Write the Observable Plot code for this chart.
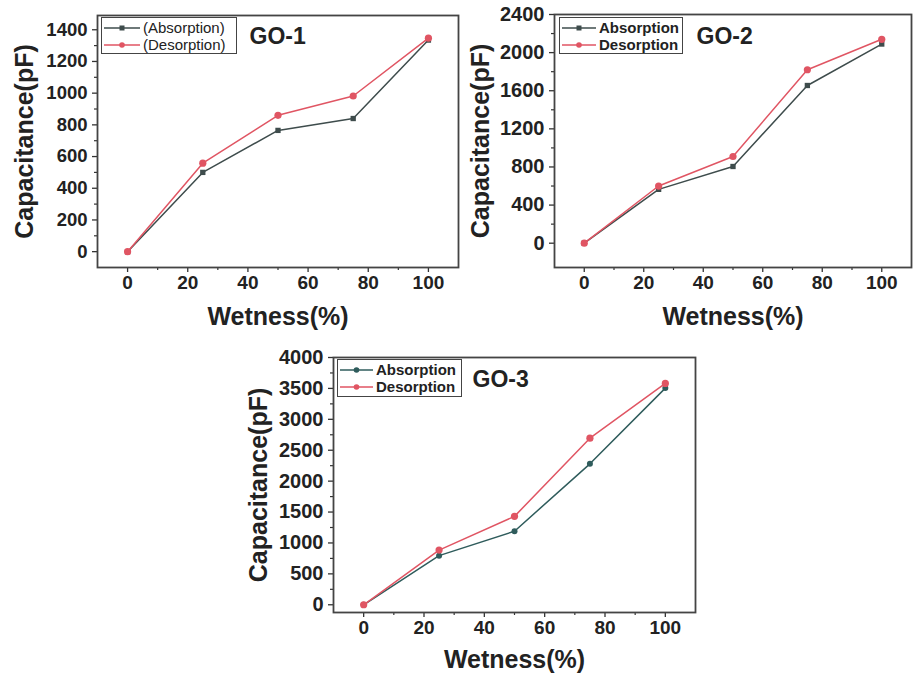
<!DOCTYPE html>
<html>
<head>
<meta charset="utf-8">
<script src="https://cdn.jsdelivr.net/npm/d3@7"></script>
<script src="https://cdn.jsdelivr.net/npm/@observablehq/plot@0.6"></script>
<style>
  body { margin: 0; background: #fff; }
  #wrap { position: relative; width: 913px; height: 673px; background: #fff; overflow: hidden; font-family: "Liberation Sans", Arial, sans-serif; }
  .panel { position: absolute; }
  .legend { position: absolute; border: 1.6px solid #444; background: #fff; box-sizing: border-box; padding: 1px 0 0 1px; }
  .legend .row { display: flex; align-items: center; height: 17px; color: #222; white-space: nowrap; }
  .legend svg { display: block; flex: none; }
</style>
</head>
<body>
<div id="wrap"></div>
<script>
// ---- data ----
const wetness = [0, 25, 50, 75, 100];
const go1Abs = [0, 500, 765, 840, 1335];
const go1Des = [0, 558, 860, 982, 1347];
const go2Abs = [0, 565, 805, 1655, 2090];
const go2Des = [0, 600, 910, 1820, 2140];
const go3Abs = [0, 795, 1190, 2280, 3505];
const go3Des = [0, 885, 1430, 2695, 3580];

const xTicks = [0, 20, 40, 60, 80, 100];
const xMinor = [10, 30, 50, 70, 90];
const go1YTicks = [0, 200, 400, 600, 800, 1000, 1200, 1400];
const go1YMinor = [100, 300, 500, 700, 900, 1100, 1300];
const go2YTicks = [0, 400, 800, 1200, 1600, 2000, 2400];
const go2YMinor = [200, 600, 1000, 1400, 1800, 2200];
const go3YTicks = [0, 500, 1000, 1500, 2000, 2500, 3000, 3500, 4000];
const go3YMinor = [250, 750, 1250, 1750, 2250, 2750, 3250, 3750];

const titles = ["GO-1", "GO-2", "GO-3"];
const seriesNames1 = ["(Absorption)", "(Desorption)"];
const seriesNames = ["Absorption", "Desorption"];
const xLabel = "Wetness(%)";
const yLabel = "Capacitance(pF)";

const absColor = "#3e4c4c";
const desColor = "#e05563";
const FONT = "'Liberation Sans', Arial, sans-serif";

const wrap = document.getElementById("wrap");

function panel(cfg) {
  const abs = wetness.map((w, i) => ({w, v: cfg.abs[i]}));
  const des = wetness.map((w, i) => ({w, v: cfg.des[i]}));
  const axisStyle = {fontWeight: "bold", label: null, stroke: "#333", strokeWidth: 1.3, fill: "#222", tickFormat: d => String(d)};
  const plot = Plot.plot({
    width: cfg.width,
    height: cfg.height,
    marginLeft: cfg.ml, marginRight: cfg.mr, marginTop: cfg.mt, marginBottom: cfg.mb,
    x: {domain: [-10, 110]},
    y: {domain: cfg.yDomain},
    style: {fontFamily: FONT, background: "transparent", color: "#222", overflow: "visible"},
    marks: [
      Plot.axisX(xTicks, {...axisStyle, fontSize: 19, tickSize: 5, tickPadding: 3}),
      Plot.axisX(xMinor, {tickSize: 3, tickFormat: () => "", label: null, stroke: "#333", strokeWidth: 1.2}),
      Plot.axisY(cfg.yTicks, {...axisStyle, fontSize: cfg.yfs, tickSize: 5, tickPadding: 5}),
      Plot.axisY(cfg.yMinor, {tickSize: 3, tickFormat: () => "", label: null, stroke: "#333", strokeWidth: 1.2}),
      Plot.frame({stroke: "#444", strokeWidth: 1.8}),
      Plot.line(abs, {x: "w", y: "v", stroke: cfg.absColor || absColor, strokeWidth: 1.5}),
      Plot.dot(abs, {x: "w", y: "v", symbol: cfg.absSymbol || "square", r: 3, fill: cfg.absColor || absColor}),
      Plot.line(des, {x: "w", y: "v", stroke: desColor, strokeWidth: 1.5}),
      Plot.dot(des, {x: "w", y: "v", symbol: "circle", r: 3.6, fill: desColor}),
      Plot.text([cfg.title], {text: d => d, frameAnchor: "top-left", dx: cfg.titleDx, dy: cfg.titleDy, textAnchor: "start", lineAnchor: "middle", fontSize: 23, fontWeight: "bold", fill: "#222"}),
      Plot.text([yLabel], {text: d => d, frameAnchor: "left", rotate: -90, dx: cfg.yLabDx, textAnchor: "middle", lineAnchor: "middle", fontSize: 25, fontWeight: "bold", fill: "#222"}),
      Plot.text([xLabel], {text: d => d, frameAnchor: "bottom", dy: cfg.xLabDy, textAnchor: "middle", lineAnchor: "middle", fontSize: 25, fontWeight: "bold", fill: "#222"})
    ]
  });
  plot.classList.add("panel");
  plot.style.left = cfg.left + "px";
  plot.style.top = cfg.top + "px";
  wrap.appendChild(plot);

  // legend
  const lg = document.createElement("div");
  lg.className = "legend";
  lg.style.left = cfg.lg.left + "px";
  lg.style.top = cfg.lg.top + "px";
  lg.style.width = cfg.lg.w + "px";
  lg.style.height = cfg.lg.h + "px";
  const names = cfg.names;
  const cols = [cfg.absColor || absColor, desColor];
  names.forEach((n, i) => {
    const row = document.createElement("div");
    row.className = "row";
    const sw = cfg.lg.sw;
    const marker = i === 0 && (cfg.absSymbol || "square") === "square"
      ? `<rect x="${sw/2 - 2.5}" y="2.5" width="5" height="5" fill="${cols[i]}"/>`
      : `<circle cx="${sw/2}" cy="5" r="2.8" fill="${cols[i]}"/>`;
    row.innerHTML = `<svg width="${sw}" height="10"><line x1="1" x2="${sw - 1}" y1="5" y2="5" stroke="${cols[i]}" stroke-width="1.5"/>${marker}</svg>` +
      `<span style="font-size:${cfg.lg.fs}px;font-weight:${cfg.lg.fw};margin-left:2px">${n}</span>`;
    lg.appendChild(row);
  });
  wrap.appendChild(lg);
}

panel({
  left: 0, top: 0, width: 460, height: 335, ml: 97, mr: 2, mt: 15, mb: 68,
  yDomain: [-100, 1490], yTicks: go1YTicks, yMinor: go1YMinor, yfs: 18.5,
  abs: go1Abs, des: go1Des, title: titles[0], titleDx: 152, titleDy: 21,
  yLabDx: -73, xLabDy: 49, names: seriesNames1,
  lg: {left: 101, top: 17, w: 136, h: 37, sw: 38, fs: 15, fw: 500}
});
panel({
  left: 455, top: 0, width: 458, height: 335, ml: 99, mr: 2, mt: 14, mb: 68,
  yDomain: [-255, 2400], yTicks: go2YTicks, yMinor: go2YMinor, yfs: 20,
  abs: go2Abs, des: go2Des, title: titles[1], titleDx: 142, titleDy: 22,
  yLabDx: -74, xLabDy: 49, names: seriesNames,
  lg: {left: 559, top: 17, w: 124, h: 37, sw: 36, fs: 15, fw: "bold"}
});
panel({
  left: 235, top: 340, width: 470, height: 333, ml: 98, mr: 10, mt: 17, mb: 61,
  yDomain: [-125, 4000], yTicks: go3YTicks, yMinor: go3YMinor, yfs: 20,
  abs: go3Abs, des: go3Des, title: titles[2], titleDx: 139, titleDy: 22,
  yLabDx: -75, xLabDy: 47, names: seriesNames, absColor: "#2f5c5c", absSymbol: "circle",
  lg: {left: 337, top: 359, w: 125, h: 38, sw: 35, fs: 15, fw: "bold"}
});
</script>
</body>
</html>
